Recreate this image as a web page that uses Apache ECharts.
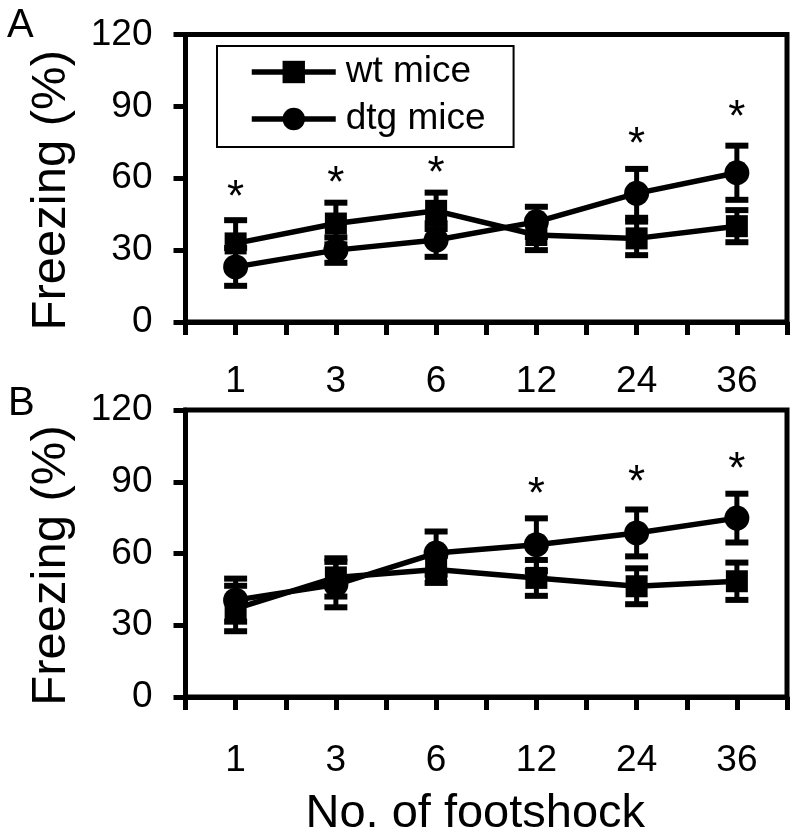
<!DOCTYPE html>
<html>
<head>
<meta charset="utf-8">
<script src="https://cdn.jsdelivr.net/npm/echarts@6/dist/echarts.min.js"></script>
<style>
html,body{margin:0;padding:0;background:#fff;}
#chart{width:800px;height:839px;}
</style>
</head>
<body>
<div id="chart"></div>
<script>
// ---- data ----
const shocks = ['1', '3', '6', '12', '24', '36'];
const yTicks = [0, 30, 60, 90, 120];
const seriesNames = ['wt mice', 'dtg mice'];

// Panel A
const wtA = [32.8, 41.1, 46.4, 36.3, 34.9, 40.0];
const wtAErr = [9.7, 8.7, 7.6, 6.3, 7.0, 6.7];
const dtgA = [23.0, 30.0, 34.2, 41.8, 53.7, 62.3];
const dtgAErr = [7.9, 5.3, 7.0, 6.3, 10.2, 11.3];
const starsA = [55.0, 61.0, 65.3, null, 77.4, 88.6];

// Panel B
const wtB = [37.0, 50.0, 53.3, 49.8, 46.3, 48.4];
const wtBErr = [9.5, 8.0, 5.6, 7.5, 7.5, 7.8];
const dtgB = [40.5, 47.0, 60.2, 63.7, 68.6, 74.8];
const dtgBErr = [9.0, 9.5, 9.0, 11.0, 9.8, 10.2];
const starsB = [null, null, null, 88.0, 92.9, 98.5];

// ---- helpers ----
const FONT = '"Liberation Sans", Arial, Helvetica, sans-serif';
const slot = i => 2 * i + 1;            // category slot on the 0..12 axis
const pts = vals => vals.map((v, i) => [slot(i), v]);
const errs = (vals, e) => vals.map((v, i) => [slot(i), v - e[i], v + e[i]]);
const stars = vals => vals.map((v, i) => v == null ? null : [slot(i), v]).filter(d => d);

function errorRender(params, api) {
  const x = api.value(0);
  const lo = api.coord([x, api.value(1)]);
  const hi = api.coord([x, api.value(2)]);
  const hw = 11.5;
  const st = { stroke: '#000', lineWidth: 5 };
  const cap = { stroke: '#000', lineWidth: 6 };
  return {
    type: 'group',
    children: [
      { type: 'line', shape: { x1: lo[0], y1: lo[1], x2: hi[0], y2: hi[1] }, style: st },
      { type: 'line', shape: { x1: hi[0] - hw, y1: hi[1], x2: hi[0] + hw, y2: hi[1] }, style: cap },
      { type: 'line', shape: { x1: lo[0] - hw, y1: lo[1], x2: lo[0] + hw, y2: lo[1] }, style: cap }
    ]
  };
}
function starRender(params, api) {
  const p = api.coord([api.value(0), api.value(1)]);
  return {
    type: 'text', x: p[0], y: p[1] + 9,
    style: { text: '*', fontSize: 44, fontFamily: FONT, fill: '#000', align: 'center', verticalAlign: 'middle' }
  };
}

const grids = [
  { left: 185.5, right: 13, top: 34.5, height: 287.5 },
  { left: 185.5, right: 13, top: 410, height: 287 }
];

function xAxis(gi, withName) {
  const ax = {
    type: 'value', gridIndex: gi, min: 0, max: 12, interval: 1,
    axisLine: { show: true, lineStyle: { color: '#000', width: 5 } },
    axisTick: { show: true, inside: false, length: 13, lineStyle: { color: '#000', width: 5 } },
    axisLabel: {
      show: true, margin: gi === 0 ? 41 : 45, color: '#000', fontSize: 37, fontFamily: FONT,
      formatter: v => (v % 2 === 1 ? shocks[(v - 1) / 2] : '')
    },
    splitLine: { show: false }
  };
  if (withName) {
    Object.assign(ax, {
      name: 'No. of footshock', nameLocation: 'middle', nameGap: 94,
      nameTextStyle: { color: '#000', fontSize: 47, fontFamily: FONT, padding: [0, 22, 0, 0] }
    });
  }
  return ax;
}
function yAxis(gi) {
  return {
    type: 'value', gridIndex: gi, min: yTicks[0], max: yTicks[yTicks.length - 1], interval: 30,
    axisLine: { show: true, lineStyle: { color: '#000', width: 5 } },
    axisTick: { show: true, inside: false, length: 12, lineStyle: { color: '#000', width: 5 } },
    axisLabel: { show: true, margin: 33, color: '#000', fontSize: 37, fontFamily: FONT },
    splitLine: { show: false },
    name: 'Freezing (%)', nameLocation: 'middle', nameGap: 110, nameRotate: 90,
    nameTextStyle: { color: '#000', fontSize: 49, fontFamily: FONT, padding: [0, 24, 0, 0] }
  };
}

function lineSeries(name, data, gi, symbol, size) {
  return {
    type: 'line', name: name, xAxisIndex: gi, yAxisIndex: gi, data: data,
    symbol: symbol, symbolSize: size, showSymbol: true,
    lineStyle: { color: '#000', width: 5.5 },
    itemStyle: { color: '#000' },
    z: 3, animation: false
  };
}
function errSeries(data, gi) {
  return { type: 'custom', xAxisIndex: gi, yAxisIndex: gi, data: data, renderItem: errorRender, z: 2, animation: false, silent: true };
}
function starSeries(data, gi) {
  return { type: 'custom', xAxisIndex: gi, yAxisIndex: gi, data: data, renderItem: starRender, z: 4, animation: false, silent: true };
}

const option = {
  animation: false,
  backgroundColor: '#fff',
  textStyle: { fontFamily: FONT },
  grid: grids.map(g => Object.assign({ show: true, borderColor: '#000', borderWidth: 5, backgroundColor: 'transparent' }, g)),
  xAxis: [xAxis(0, false), xAxis(1, true)],
  yAxis: [yAxis(0), yAxis(1)],
  legend: {
    data: seriesNames,
    left: 217, top: 46,
    orient: 'vertical',
    itemWidth: 84, itemHeight: 28, itemGap: 7,
    padding: [6, 28, 8, 32],
    borderColor: '#000', borderWidth: 2,
    lineStyle: { width: 5.5, color: '#000' },
    textStyle: { color: '#000', fontSize: 37, fontFamily: FONT, lineHeight: 40, padding: [0, 0, 0, 5] },
    selectedMode: false
  },
  graphic: [
    { type: 'text', left: 7, top: 6, style: { text: 'A', fontSize: 40, fontFamily: FONT, fill: '#000' } },
    { type: 'text', left: 8, top: 384, style: { text: 'B', fontSize: 40, fontFamily: FONT, fill: '#000' } }
  ],
  series: [
    errSeries(errs(wtA, wtAErr), 0),
    errSeries(errs(dtgA, dtgAErr), 0),
    lineSeries(seriesNames[0], pts(wtA), 0, 'rect', 22),
    lineSeries(seriesNames[1], pts(dtgA), 0, 'circle', 25),
    starSeries(stars(starsA), 0),
    errSeries(errs(wtB, wtBErr), 1),
    errSeries(errs(dtgB, dtgBErr), 1),
    lineSeries(seriesNames[0], pts(wtB), 1, 'rect', 22),
    lineSeries(seriesNames[1], pts(dtgB), 1, 'circle', 25),
    starSeries(stars(starsB), 1)
  ]
};

const chart = echarts.init(document.getElementById('chart'), null, { renderer: 'canvas' });
chart.setOption(option);
</script>
</body>
</html>
